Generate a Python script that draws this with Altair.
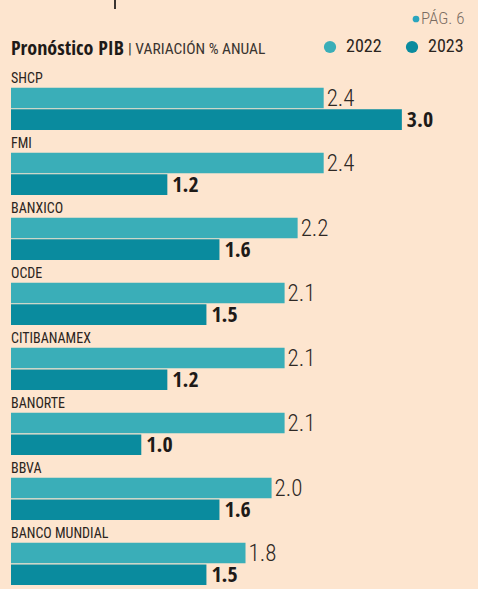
import altair as alt
import pandas as pd

entidades = ["SHCP", "FMI", "BANXICO", "OCDE", "CITIBANAMEX", "BANORTE", "BBVA", "BANCO MUNDIAL"]
v2022 = [2.4, 2.4, 2.2, 2.1, 2.1, 2.1, 2.0, 1.8]
v2023 = [3.0, 1.2, 1.6, 1.5, 1.2, 1.0, 1.6, 1.5]
anios = ["2022", "2023"]
colores = ["#3AAEB8", "#0A8B9E"]

FONT = "Roboto Condensed"
BOLD = "Open Sans Condensed"
TXT = "#2a2420"

domain = []
for e in entidades:
    domain += [f"{e}|label", f"{e}|2022", f"{e}|2023"]

rows = []
for e, a, b in zip(entidades, v2022, v2023):
    rows.append({"entidad": e, "anio": "2022", "valor": a, "key": f"{e}|2022"})
    rows.append({"entidad": e, "anio": "2023", "valor": b, "key": f"{e}|2023"})
df = pd.DataFrame(rows)
df_lab = pd.DataFrame({"entidad": entidades, "key": [f"{e}|label" for e in entidades]})

yscale = alt.Scale(domain=domain, paddingInner=0.05, paddingOuter=0)
xscale = alt.Scale(domain=[0, 3.5], nice=False)

base = alt.Chart(df)

bars = base.mark_bar(cornerRadius=0).encode(
    x=alt.X("valor:Q", scale=xscale, axis=None),
    y=alt.Y("key:N", scale=yscale, axis=None, sort=domain),
    color=alt.Color(
        "anio:N",
        scale=alt.Scale(domain=anios, range=colores),
        legend=alt.Legend(
            title=None, orient="none", legendX=310, legendY=-28, direction="horizontal",
            symbolType="circle", symbolSize=150, symbolStrokeWidth=0,
            labelFont=FONT, labelFontSize=18, labelColor=TXT, labelOffset=7,
            columnPadding=21, padding=0,
        ),
    ),
)

t22 = base.transform_filter("datum.anio == '2022'").mark_text(
    align="left", baseline="middle", dx=3, dy=1, font=FONT, fontSize=23, fontWeight=300, color="#2e2824"
).encode(
    x=alt.X("valor:Q", scale=xscale, axis=None),
    y=alt.Y("key:N", scale=yscale, axis=None, sort=domain),
    text=alt.Text("valor:Q", format=".1f"),
)

t23 = base.transform_filter("datum.anio == '2023'").mark_text(
    align="left", baseline="middle", dx=5, dy=0, font=BOLD, fontSize=22, fontWeight="bold", color="#1e1a18"
).encode(
    x=alt.X("valor:Q", scale=xscale, axis=None),
    y=alt.Y("key:N", scale=yscale, axis=None, sort=domain),
    text=alt.Text("valor:Q", format=".1f"),
)

labels = alt.Chart(df_lab).mark_text(
    align="left", baseline="middle", dy=3, font=FONT, fontSize=14, color=TXT
).encode(
    x=alt.value(0),
    y=alt.Y("key:N", scale=yscale, axis=None, sort=domain),
    text="entidad:N",
)

title_df = pd.DataFrame({"t": ["Pronóstico PIB"]})
title = alt.Chart(title_df).mark_text(
    align="left", baseline="alphabetic", font=BOLD, fontSize=20, fontWeight="bold", color="#1e1a18"
).encode(x=alt.value(0), y=alt.value(-11), text="t:N")

sub_df = pd.DataFrame({"t": ["|  VARIACIÓN % ANUAL"]})
sub = alt.Chart(sub_df).mark_text(
    align="left", baseline="alphabetic", font=FONT, fontSize=15.5, color="#3a3430"
).encode(x=alt.value(117), y=alt.value(-12), text="t:N")

pag_df = pd.DataFrame({"t": ["PÁG. 6"]})
pag = alt.Chart(pag_df).mark_text(
    align="left", baseline="middle", font=FONT, fontSize=17, fontWeight=300, color="#7a6c62"
).encode(x=alt.value(410), y=alt.value(-47), text="t:N")
dot = alt.Chart(pag_df).mark_circle(size=45, opacity=1, color="#2AA5BE").encode(
    x=alt.value(405), y=alt.value(-47)
)
top_rule = alt.Chart(pag_df).mark_rule(color="#3a3430", strokeWidth=2).encode(
    x=alt.value(104), y=alt.value(-66), y2=alt.value(-57)
)

chart = alt.layer(bars, t22, t23, labels, title, sub, pag, dot, top_rule).properties(
    width=456, height=519,
    padding={"left": 11, "top": 66, "right": 11, "bottom": 4},
    autosize=alt.AutoSizeParams(type="none"),
    background="#FDE5CF",
).configure_view(stroke=None)

chart.save("out.html", embed_options={"renderer": "svg", "actions": False})
